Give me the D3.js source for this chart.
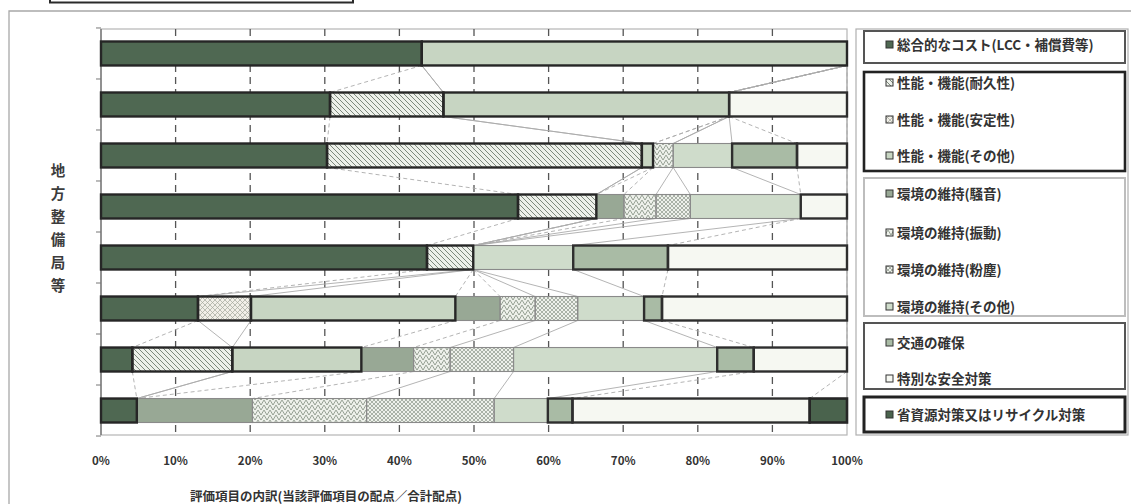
<!DOCTYPE html>
<html>
<head>
<meta charset="utf-8">
<script src="https://cdn.jsdelivr.net/npm/d3@7"></script>
<style>
  html, body { margin: 0; padding: 0; background: #fff; }
  svg { display: block; }
  text { font-family: "Noto Sans CJK JP", "Noto Sans", sans-serif; }
</style>
</head>
<body>
<svg id="chart" width="1131" height="504"></svg>
<script>
// ---- data -------------------------------------------------------------
const rowIds = ["r1", "r2", "r3", "r4", "r5", "r6", "r7", "r8"];

const seriesNames = [
  "総合的なコスト(LCC・補償費等)",
  "性能・機能(耐久性)",
  "性能・機能(安定性)",
  "性能・機能(その他)",
  "環境の維持(騒音)",
  "環境の維持(振動)",
  "環境の維持(粉塵)",
  "環境の維持(その他)",
  "交通の確保",
  "特別な安全対策",
  "省資源対策又はリサイクル対策"
];

// share of total points (%) per row
const costTotal   = [43.0, 30.7, 30.3, 55.9, 43.7, 13.0,  4.2,  4.8];
const durability  = [ 0.0, 15.2, 42.2, 10.5,  6.2,  0.0, 13.4,  0.0];
const stability   = [ 0.0,  0.0,  0.0,  0.0,  0.0,  7.1,  0.0,  0.0];
const perfOther   = [57.0, 38.3,  1.5,  0.0,  0.0, 27.4, 17.3,  0.0];
const noise       = [ 0.0,  0.0,  0.0,  3.7,  0.0,  6.0,  7.0, 15.5];
const vibration   = [ 0.0,  0.0,  2.7,  4.3,  0.0,  4.7,  4.9, 15.3];
const dust        = [ 0.0,  0.0,  0.0,  4.6,  0.0,  5.7,  8.5, 17.1];
const envOther    = [ 0.0,  0.0,  7.9, 14.8, 13.4,  8.9, 27.3,  7.2];
const traffic     = [ 0.0,  0.0,  8.7,  0.0, 12.7,  2.4,  4.9,  3.3];
const safety      = [ 0.0, 15.8,  6.7,  6.2, 24.0, 24.8, 12.5, 31.8];
const recycling   = [ 0.0,  0.0,  0.0,  0.0,  0.0,  0.0,  0.0,  5.0];

const xTickValues = [0, 10, 20, 30, 40, 50, 60, 70, 80, 90, 100];
const xTickLabels = ["0%", "10%", "20%", "30%", "40%", "50%", "60%", "70%", "80%", "90%", "100%"];

const yAxisTitle = "地方整備局等";
const xAxisTitle = "評価項目の内訳(当該評価項目の配点／合計配点)";

// legend grouping (index ranges into seriesNames)
const legendGroups = [[0], [1, 2, 3], [4, 5, 6, 7], [8, 9], [10]];

// ---- table for d3.stack ----------------------------------------------
const seriesArrays = [costTotal, durability, stability, perfOther, noise, vibration,
                      dust, envOther, traffic, safety, recycling];
const table = rowIds.map((id, i) => {
  const row = { id };
  seriesNames.forEach((name, k) => { row[name] = seriesArrays[k][i]; });
  return row;
});
const stacked = d3.stack().keys(seriesNames)(table);

// ---- styles -----------------------------------------------------------
const svg = d3.select("#chart");
const defs = svg.append("defs");

function makePattern(id, w, h, bg, path, stroke, sw) {
  const p = defs.append("pattern").attr("id", id)
    .attr("patternUnits", "userSpaceOnUse").attr("width", w).attr("height", h);
  p.append("rect").attr("width", w).attr("height", h).attr("fill", bg);
  p.append("path").attr("d", path).attr("fill", "none")
    .attr("stroke", stroke).attr("stroke-width", sw);
}
makePattern("p-back", 5, 5, "#edf0ea", "M-1,-1 L6,6 M-1,4 L1,6 M4,-1 L6,1", "#6f7d6f", 0.9);
makePattern("p-cross", 5, 5, "#f1efe8", "M0,0 L5,5 M5,0 L0,5", "#a3a89c", 0.7);
makePattern("p-zig", 6, 5, "#eef1eb", "M0,0 L3,5 L6,0", "#7f8b7d", 0.8);
makePattern("p-diamond", 4, 4, "#eef1eb", "M0,2 L2,0 L4,2 L2,4 Z", "#8c978b", 0.7);

const seriesFill = [
  "#4f6852",         // 総合
  "url(#p-back)",    // 耐久性
  "url(#p-cross)",   // 安定性
  "#c7d5c2",         // 性能その他
  "#98a895",         // 騒音
  "url(#p-zig)",     // 振動
  "url(#p-diamond)", // 粉塵
  "#cfdccb",         // 環境その他
  "#a9bba5",         // 交通の確保
  "#f6f8f2",         // 特別な安全対策
  "#4a634d"          // 省資源
];
const seriesGroupOf = [0, 1, 1, 1, 2, 2, 2, 2, 3, 3, 4];
const groupStroke = ["#262626", "#262626", "#8a8a8a", "#2e2e2e", "#262626"];
const groupStrokeW = [2.4, 2.4, 1.1, 2.4, 2.6];
const seriesLineDash = ["4,3", null, null, "4,3", "4,3", null, null, null, "4,3", "4,3", null];

// ---- scales -----------------------------------------------------------
const x = d3.scaleLinear().domain([0, 100]).range([101, 847]);
const y = d3.scaleBand().domain(rowIds).range([29, 435])
  .paddingInner(0.53).paddingOuter(0.245);
const plotTop = 29, plotBottom = 435;

// ---- frame ------------------------------------------------------------
svg.append("rect").attr("x", 50).attr("y", -20).attr("width", 303).attr("height", 22.5)
  .attr("fill", "#fff").attr("stroke", "#2a2a2a").attr("stroke-width", 2);
svg.append("path").attr("d", "M9,504 V11 H1131")
  .attr("fill", "none").attr("stroke", "#a8a8a8").attr("stroke-width", 1.3);

// plot area border
svg.append("rect").attr("x", x(0)).attr("y", plotTop)
  .attr("width", x(100) - x(0)).attr("height", plotBottom - plotTop)
  .attr("fill", "none").attr("stroke", "#b5b5b5").attr("stroke-width", 1.2);

// dashed vertical gridlines
svg.append("g").selectAll("line")
  .data(xTickValues.filter(v => v > 0 && v < 100))
  .join("line")
  .attr("x1", d => x(d)).attr("x2", d => x(d))
  .attr("y1", plotTop).attr("y2", plotBottom)
  .attr("stroke", "#555").attr("stroke-width", 1.3)
  .attr("stroke-dasharray", "7,5");

// left axis line and category ticks
const gapHalf = (y.step() - y.bandwidth()) / 2;
const boundaries = rowIds.map(id => y(id) - gapHalf)
  .concat([y(rowIds[rowIds.length - 1]) + y.bandwidth() + gapHalf]);
svg.append("line").attr("x1", x(0)).attr("x2", x(0))
  .attr("y1", plotTop).attr("y2", plotBottom)
  .attr("stroke", "#666").attr("stroke-width", 1.2);
svg.append("g").selectAll("line").data(boundaries).join("line")
  .attr("x1", x(0) - 5).attr("x2", x(0))
  .attr("y1", d => d).attr("y2", d => d)
  .attr("stroke", "#777").attr("stroke-width", 1);

// series lines joining the segment ends of neighbouring bars
const connectors = [];
stacked.forEach((s, k) => {
  for (let i = 0; i < rowIds.length - 1; i++) {
    connectors.push({ k, x1: s[i][1], x2: s[i + 1][1], r1: rowIds[i], r2: rowIds[i + 1] });
  }
});
svg.append("g").selectAll("line").data(connectors).join("line")
  .attr("x1", d => x(d.x1)).attr("x2", d => x(d.x2))
  .attr("y1", d => y(d.r1) + y.bandwidth()).attr("y2", d => y(d.r2))
  .attr("stroke", "#ababab").attr("stroke-width", 0.9)
  .attr("stroke-dasharray", d => seriesLineDash[d.k]);

// ---- bars -------------------------------------------------------------
const segments = [];
stacked.forEach((s, k) => {
  s.forEach((d, i) => {
    if (d[1] - d[0] > 0) segments.push({ k, g: seriesGroupOf[k], x0: d[0], x1: d[1], row: rowIds[i] });
  });
});
const barG = svg.append("g");
barG.selectAll("rect.fill").data(segments).join("rect").attr("class", "fill")
  .attr("x", d => x(d.x0)).attr("y", d => y(d.row))
  .attr("width", d => x(d.x1) - x(d.x0)).attr("height", y.bandwidth())
  .attr("fill", d => seriesFill[d.k]);
// thin outlines first, heavy outlines on top
const ordered = segments.slice().sort((a, b) => groupStrokeW[a.g] - groupStrokeW[b.g]);
barG.selectAll("rect.edge").data(ordered).join("rect").attr("class", "edge")
  .attr("x", d => x(d.x0)).attr("y", d => y(d.row))
  .attr("width", d => x(d.x1) - x(d.x0)).attr("height", y.bandwidth())
  .attr("fill", "none")
  .attr("stroke", d => groupStroke[d.g]).attr("stroke-width", d => groupStrokeW[d.g]);

// ---- axis labels ------------------------------------------------------
svg.append("g").selectAll("text").data(xTickValues).join("text")
  .attr("x", d => x(d)).attr("y", 465)
  .attr("text-anchor", "middle")
  .attr("font-size", 11.5).attr("font-weight", 700).attr("fill", "#333")
  .text((d, i) => xTickLabels[i]);

svg.append("text").attr("x", 190).attr("y", 501)
  .attr("font-size", 12.5).attr("font-weight", 700).attr("fill", "#333")
  .text(xAxisTitle);

svg.append("g").selectAll("text").data(Array.from(yAxisTitle)).join("text")
  .attr("x", 58).attr("y", (d, i) => 176 + i * 23)
  .attr("text-anchor", "middle")
  .attr("font-size", 14.5).attr("font-weight", 700).attr("fill", "#3c3c3c")
  .text(d => d);

// ---- legend -----------------------------------------------------------
svg.append("rect").attr("x", 856).attr("y", plotTop).attr("width", 272).attr("height", plotBottom - plotTop)
  .attr("fill", "none").attr("stroke", "#b0b0b0").attr("stroke-width", 1.2);

const itemY = [45, 83, 120, 156, 194, 233, 270, 307, 343, 379, 415];
const groupBox = [[31, 63], [72, 171], [178, 316], [323, 389], [397, 432]];
const legendBoxStroke = ["#555", "#222", "#bdbdbd", "#555", "#222"];
const legendBoxW = [2, 2.6, 2, 2, 3];

const lg = svg.append("g");
lg.selectAll("rect.box").data(legendGroups).join("rect").attr("class", "box")
  .attr("x", 864).attr("width", 1125 - 864)
  .attr("y", (d, gi) => groupBox[gi][0])
  .attr("height", (d, gi) => groupBox[gi][1] - groupBox[gi][0])
  .attr("fill", "#fff")
  .attr("stroke", (d, gi) => legendBoxStroke[gi])
  .attr("stroke-width", (d, gi) => legendBoxW[gi]);

lg.selectAll("rect.key").data(seriesNames).join("rect").attr("class", "key")
  .attr("x", 886).attr("y", (d, k) => itemY[k] - 4).attr("width", 7).attr("height", 7)
  .attr("fill", (d, k) => seriesFill[k]).attr("stroke", "#333").attr("stroke-width", 1);

lg.selectAll("text").data(seriesNames).join("text")
  .attr("x", 897).attr("y", (d, k) => itemY[k] + 5)
  .attr("font-size", 13.5).attr("font-weight", 700).attr("fill", "#333")
  .text(d => d);
</script>
</body>
</html>
